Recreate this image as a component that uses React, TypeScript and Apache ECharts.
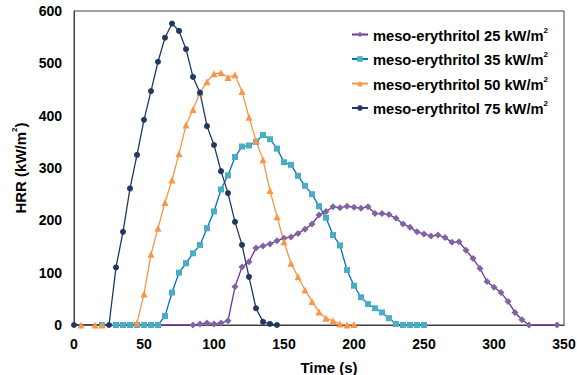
import React, { useEffect, useRef } from "react";
import * as echarts from "echarts";

const seriesNames = [
  "meso-erythritol 25 kW/m2",
  "meso-erythritol 35 kW/m2",
  "meso-erythritol 50 kW/m2",
  "meso-erythritol 75 kW/m2",
];

const xTicks = [0, 50, 100, 150, 200, 250, 300, 350];
const yTicks = [0, 100, 200, 300, 400, 500, 600];

const t25 = [60, 85, 90, 95, 100, 105, 110, 115, 120, 125, 130, 135, 140, 145, 150, 155, 160, 165, 170, 175, 180, 185, 190, 195, 200, 205, 210, 215, 220, 225, 230, 235, 240, 245, 250, 255, 260, 265, 270, 275, 280, 285, 290, 295, 300, 305, 310, 315, 320, 325, 345];
const v25 = [0, 0, 2, 4, 2, 4, 8, 73, 111, 121, 147, 151, 155, 161, 166, 168, 175, 183, 193, 210, 217, 226, 224, 227, 225, 223, 226, 213, 213, 211, 204, 193, 187, 178, 174, 170, 172, 167, 158, 159, 143, 127, 108, 83, 72, 62, 45, 24, 10, 0, 0];

const t35 = [20, 30, 35, 40, 45, 50, 55, 60, 65, 70, 75, 80, 85, 90, 95, 100, 105, 110, 115, 120, 125, 130, 135, 140, 145, 150, 155, 160, 165, 170, 175, 180, 185, 190, 195, 200, 205, 210, 215, 220, 225, 230, 235, 240, 245, 250];
const v35 = [0, 0, 0, 0, 0, 0, 0, 0, 17, 62, 100, 118, 137, 153, 185, 217, 259, 286, 321, 341, 343, 350, 363, 355, 337, 311, 306, 285, 266, 250, 227, 205, 172, 152, 105, 75, 53, 40, 32, 24, 13, 2, 0, 0, 0, 0];

const t50 = [5, 15, 20, 45, 50, 55, 60, 65, 70, 75, 80, 85, 90, 95, 100, 105, 110, 115, 120, 125, 130, 135, 140, 145, 150, 155, 160, 165, 170, 175, 180, 185, 190, 195, 200];
const v50 = [0, 0, 0, 4, 59, 135, 185, 234, 277, 327, 382, 412, 444, 465, 480, 482, 473, 478, 446, 397, 352, 316, 257, 207, 159, 118, 92, 67, 45, 25, 13, 8, 2, 0, 1];

const t75 = [0, 25, 30, 35, 40, 45, 50, 55, 60, 65, 70, 75, 80, 85, 90, 95, 100, 105, 110, 115, 120, 125, 130, 135, 140, 145];
const v75 = [0, 0, 110, 178, 261, 325, 392, 447, 503, 549, 576, 562, 527, 474, 444, 380, 344, 294, 252, 197, 153, 92, 32, 6, 2, 0];

const FONT = '"Liberation Sans", Arial, Helvetica, sans-serif';

const pair = (t: number[], v: number[]) => t.map((x, i) => [x, v[i]]);

export default function App() {
  const ref = useRef<HTMLDivElement>(null);
  useEffect(() => {
    if (!ref.current) return;
    const chart = echarts.init(ref.current, null, { renderer: "svg" });
    const lineColors = ["#7030A0", "#0070C0", "#F79646", "#1F3864"];
    const markColors = ["#8064A2", "#4BACC6", "#F79646", "#1F3864"];
    const symbols = ["diamond", "rect", "triangle", "circle"];
    const sizes = [7, 6, 7, 6];
    const datas = [pair(t25, v25), pair(t35, v35), pair(t50, v50), pair(t75, v75)];
    const rich = (fs: number) => ({
      a: { fontFamily: FONT, fontSize: fs, fontWeight: "bold", color: "#000", lineHeight: 17, verticalAlign: "bottom" },
      b: { fontFamily: FONT, fontSize: 8, fontWeight: "bold", color: "#000", lineHeight: 17, verticalAlign: "top" },
    });
    chart.setOption({
      animation: false,
      grid: {
        left: 74,
        right: 13,
        top: 11,
        bottom: 50,
        outerBoundsMode: "none",
        containLabel: false,
        show: true,
        borderColor: "#404040",
        borderWidth: 1,
        backgroundColor: "transparent",
      },
      legend: {
        orient: "vertical",
        right: 24,
        top: 21,
        itemWidth: 16,
        itemHeight: 7,
        itemGap: 7.5,
        data: seriesNames,
        formatter: (name: string) => `{a|${name.slice(0, -1)}}{b|2}`,
        textStyle: { rich: rich(14.7) },
      },
      xAxis: {
        type: "value",
        min: xTicks[0],
        max: xTicks[xTicks.length - 1],
        interval: 50,
        name: "Time (s)",
        nameLocation: "middle",
        nameGap: 35,
        nameTextStyle: { fontFamily: FONT, fontSize: 15, fontWeight: "bold", color: "#000", padding: [0, 0, 0, 20] },
        axisLine: { show: true, lineStyle: { color: "#404040", width: 1 } },
        axisTick: { show: false },
        splitLine: { show: false },
        axisLabel: { fontFamily: FONT, fontSize: 14, fontWeight: "bold", color: "#000", margin: 12 },
      },
      yAxis: {
        type: "value",
        min: yTicks[0],
        max: yTicks[yTicks.length - 1],
        interval: 100,
        name: "{a|HRR (kW/m}{b|2}{a|)}",
        nameLocation: "middle",
        nameGap: 45,
        nameRotate: 90,
        nameTextStyle: { rich: rich(15) },
        axisLine: { show: true, lineStyle: { color: "#404040", width: 1 } },
        axisTick: { show: false },
        splitLine: { show: false },
        axisLabel: { fontFamily: FONT, fontSize: 14, fontWeight: "bold", color: "#000", margin: 12 },
      },
      series: seriesNames.map((name, i) => ({
        name,
        type: "line",
        data: datas[i],
        symbol: symbols[i],
        symbolSize: sizes[i],
        showAllSymbol: true,
        lineStyle: { color: lineColors[i], width: 1.3 },
        itemStyle: { color: markColors[i] },
      })),
    });
    return () => chart.dispose();
  }, []);
  return (
    <div
      ref={ref}
      style={{ position: "fixed", left: 0, top: 0, width: 577, height: 375, background: "#fff" }}
    />
  );
}
